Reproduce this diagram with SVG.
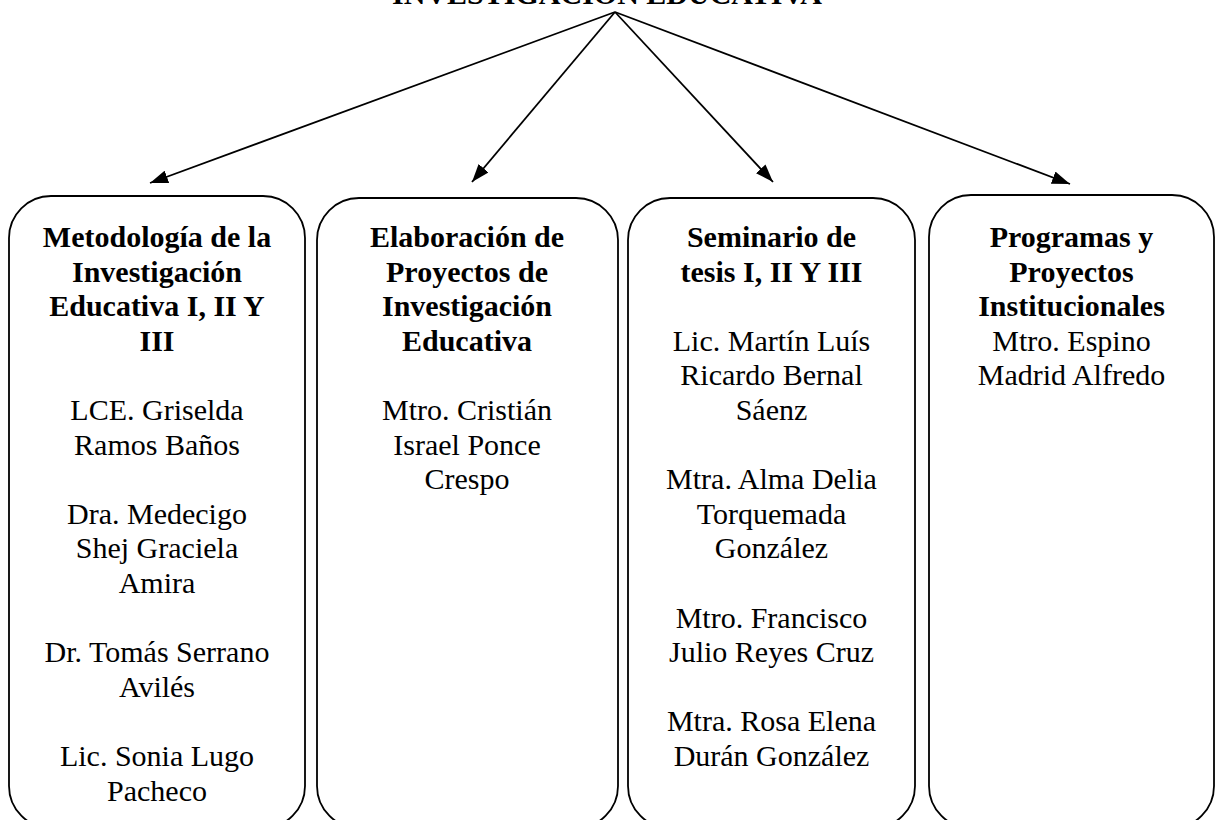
<svg xmlns="http://www.w3.org/2000/svg" width="1221" height="820" viewBox="0 0 1221 820">
<style>
.box{fill:#fff;stroke:#000;stroke-width:1.8}
.t{font-family:"Liberation Serif","Times New Roman",serif;font-size:30px;text-anchor:middle;fill:#000}
.b{font-weight:bold}
.conn{stroke:#000;stroke-width:1.8;fill:none;marker-end:url(#ah)}
</style>
<defs>
<marker id="ah" viewBox="0 0 18 13" refX="18" refY="6.5" markerWidth="18" markerHeight="13" markerUnits="userSpaceOnUse" orient="auto">
<path d="M0,0 L18,6.5 L0,13 z" fill="#000"/>
</marker>
</defs>
<rect width="1221" height="820" fill="#fff"/>
<g id="root">
<text class="t b" x="607" y="4">INVESTIGACIÓN EDUCATIVA</text>
</g>
<g id="connectors">
<line class="conn" x1="615" y1="12" x2="150" y2="183"/>
<line class="conn" x1="615" y1="12" x2="472" y2="182"/>
<line class="conn" x1="615" y1="12" x2="773" y2="182"/>
<line class="conn" x1="615" y1="12" x2="1070" y2="184"/>
</g>
<g id="node1">
<rect class="box" x="9" y="196" width="296" height="632" rx="42" ry="42"/>
<text class="t b" x="157" y="247">Metodología de la</text>
<text class="t b" x="157" y="281.6">Investigación</text>
<text class="t b" x="157" y="316.2">Educativa I, II Y</text>
<text class="t b" x="157" y="350.8">III</text>
<text class="t" x="157" y="420">LCE.  Griselda</text>
<text class="t" x="157" y="454.6">Ramos Baños</text>
<text class="t" x="157" y="523.8">Dra. Medecigo</text>
<text class="t" x="157" y="558.4">Shej Graciela</text>
<text class="t" x="157" y="593">Amira</text>
<text class="t" x="157" y="662.2">Dr. Tomás Serrano</text>
<text class="t" x="157" y="696.8">Avilés</text>
<text class="t" x="157" y="766">Lic. Sonia Lugo</text>
<text class="t" x="157" y="800.6">Pacheco</text>
</g>
<g id="node2">
<rect class="box" x="317" y="198" width="301" height="630" rx="42" ry="42"/>
<text class="t b" x="467" y="247">Elaboración de</text>
<text class="t b" x="467" y="281.6">Proyectos de</text>
<text class="t b" x="467" y="316.2">Investigación</text>
<text class="t b" x="467" y="350.8">Educativa</text>
<text class="t" x="467" y="420">Mtro. Cristián</text>
<text class="t" x="467" y="454.6">Israel Ponce</text>
<text class="t" x="467" y="489.2">Crespo</text>
</g>
<g id="node3">
<rect class="box" x="628" y="198" width="287" height="630" rx="42" ry="42"/>
<text class="t b" x="771.5" y="247">Seminario de</text>
<text class="t b" x="771.5" y="281.6">tesis I, II Y III</text>
<text class="t" x="771.5" y="350.8">Lic. Martín Luís</text>
<text class="t" x="771.5" y="385.4">Ricardo Bernal</text>
<text class="t" x="771.5" y="420">Sáenz</text>
<text class="t" x="771.5" y="489.2">Mtra. Alma Delia</text>
<text class="t" x="771.5" y="523.8">Torquemada</text>
<text class="t" x="771.5" y="558.4">González</text>
<text class="t" x="771.5" y="627.6">Mtro. Francisco</text>
<text class="t" x="771.5" y="662.2">Julio Reyes Cruz</text>
<text class="t" x="771.5" y="731.4">Mtra. Rosa Elena</text>
<text class="t" x="771.5" y="766">Durán González</text>
</g>
<g id="node4">
<rect class="box" x="929" y="195" width="285" height="633" rx="42" ry="42"/>
<text class="t b" x="1071.5" y="247">Programas y</text>
<text class="t b" x="1071.5" y="281.6">Proyectos</text>
<text class="t b" x="1071.5" y="316.2">Institucionales</text>
<text class="t" x="1071.5" y="350.8">Mtro. Espino</text>
<text class="t" x="1071.5" y="385.4">Madrid Alfredo</text>
</g>
</svg>
